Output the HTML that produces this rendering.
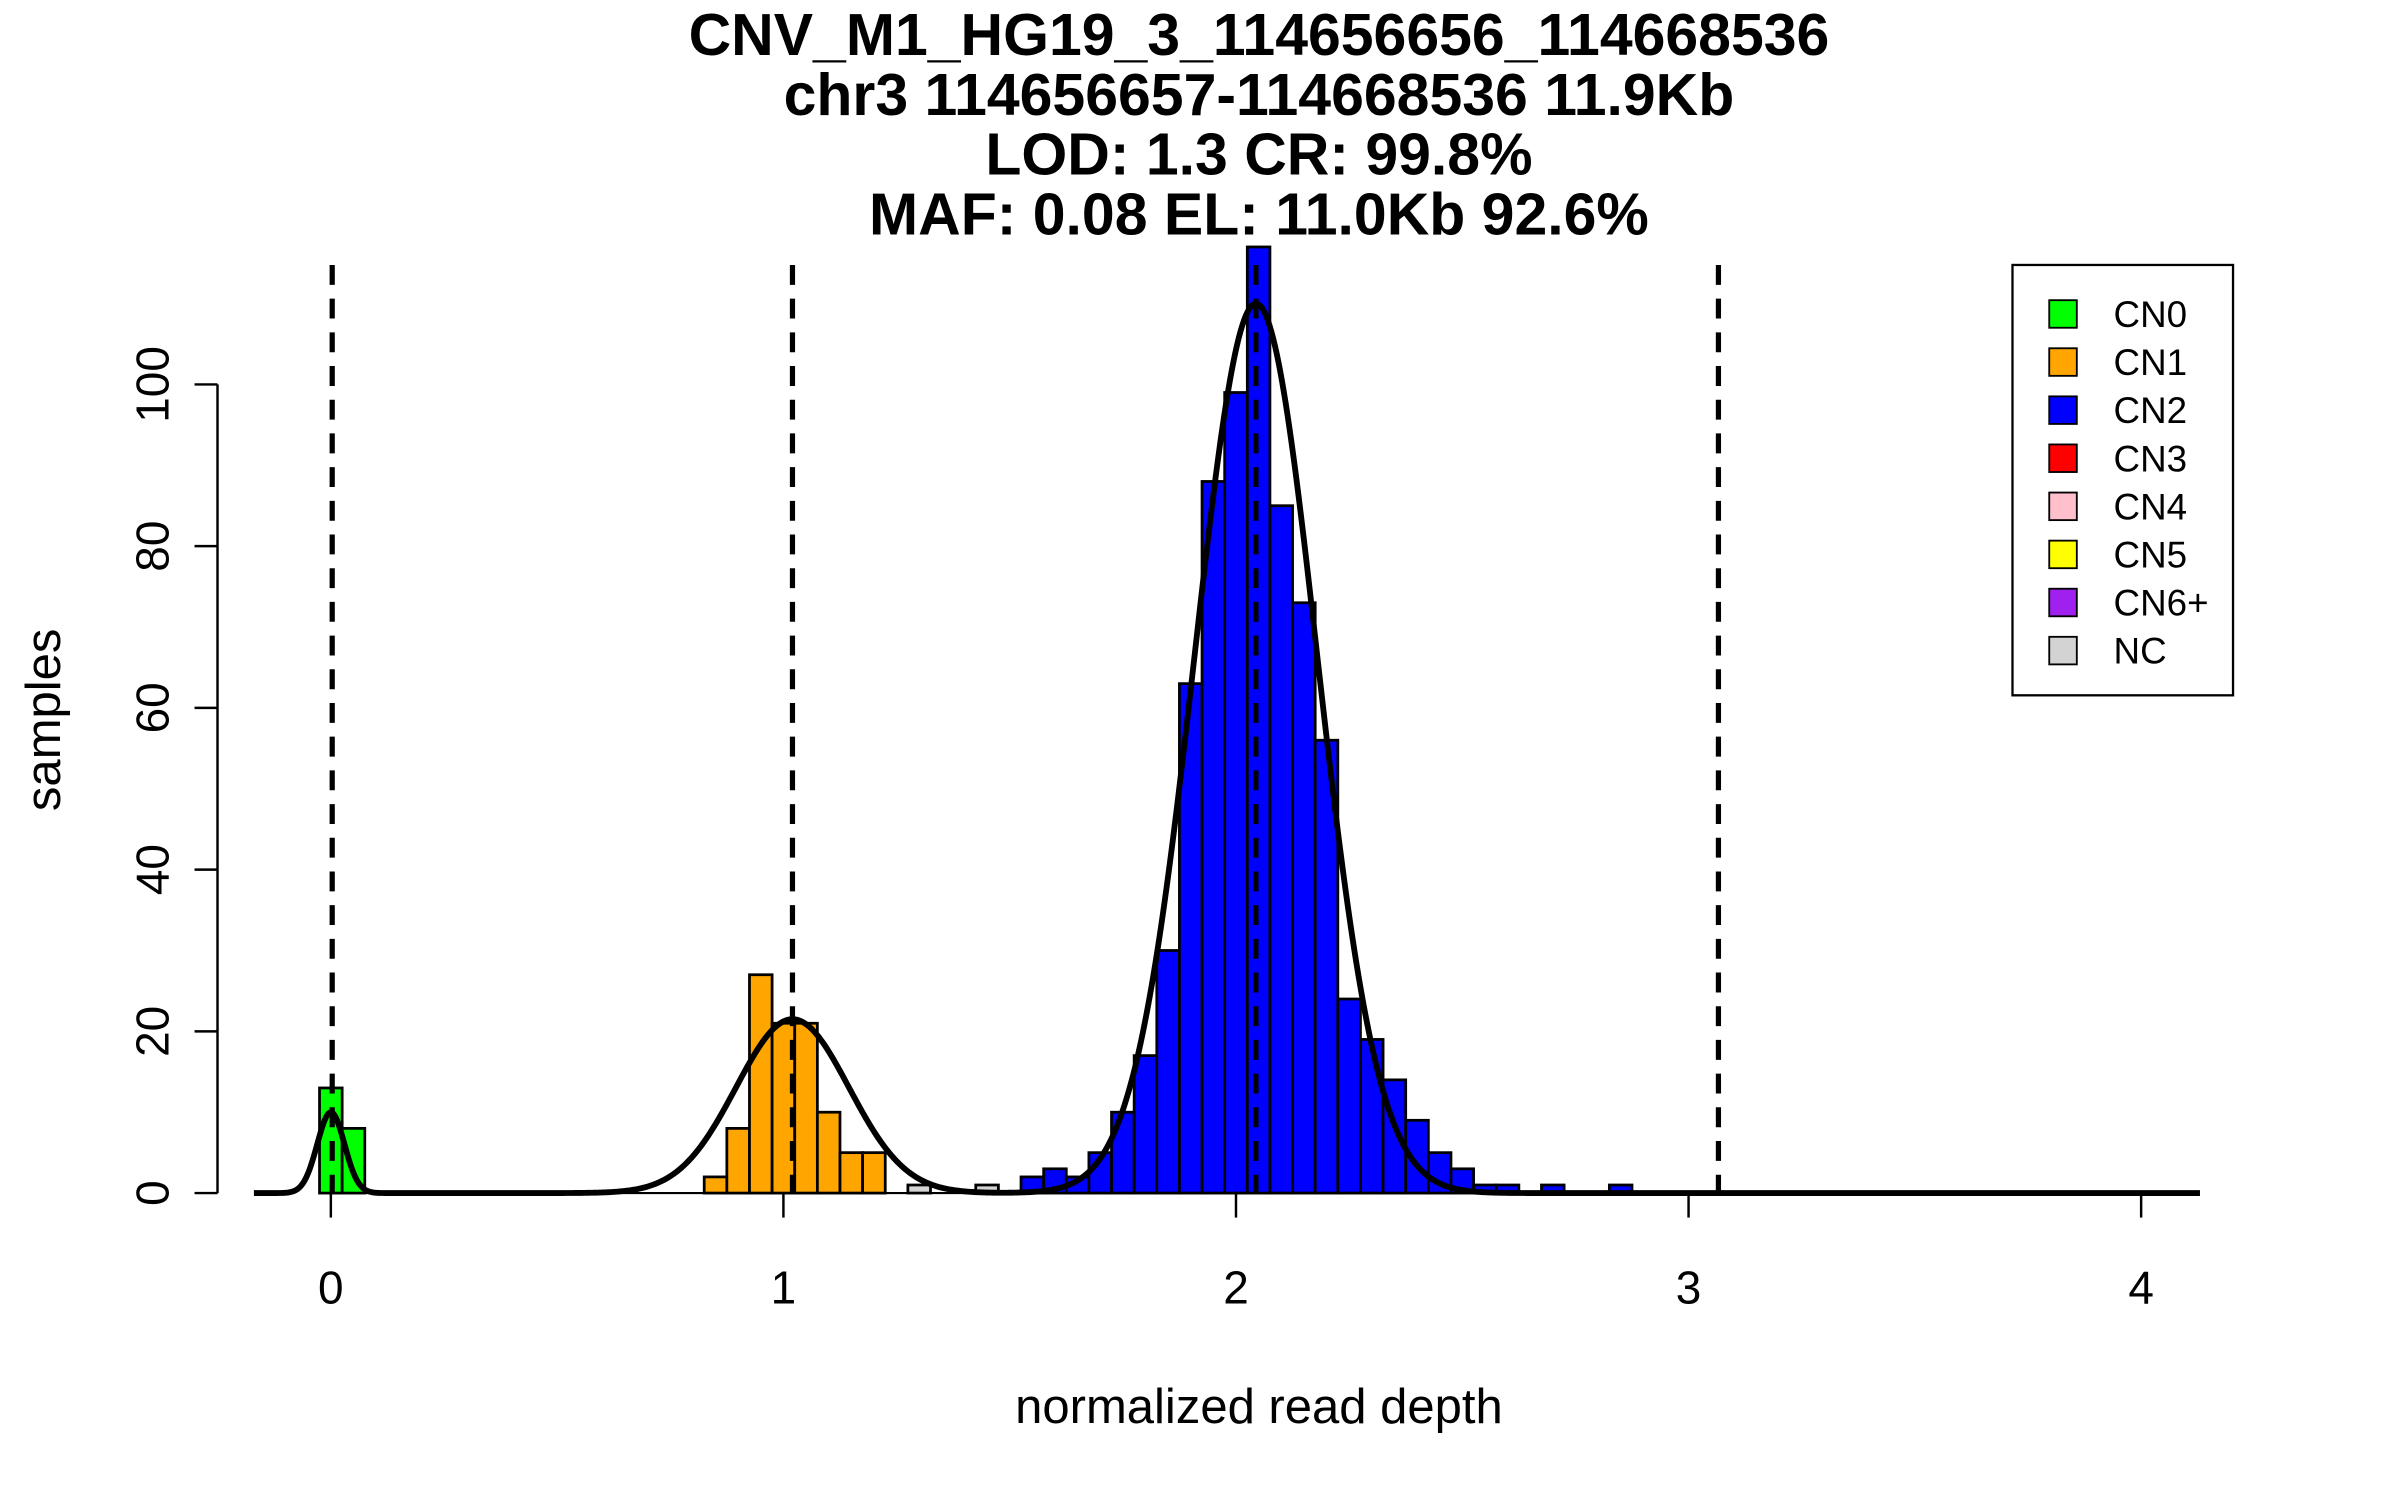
<!DOCTYPE html>
<html><head><meta charset="utf-8"><style>
html,body{margin:0;padding:0;background:#fff;}
svg{display:block;}
text{font-family:"Liberation Sans",sans-serif;fill:#000;}
</style></head><body>
<svg id="chart" width="2400" height="1500" viewBox="0 0 1567 979.4" xmlns="http://www.w3.org/2000/svg">
<g font-weight="bold" font-size="38.5" text-anchor="middle">
<text x="822" y="36">CNV_M1_HG19_3_114656656_114668536</text>
<text x="822" y="75">chr3 114656657-114668536 11.9Kb</text>
<text x="822" y="114">LOD: 1.3 CR: 99.8%</text>
<text x="822" y="153">MAF: 0.08 EL: 11.0Kb 92.6%</text>
</g>
<g id="bars"></g>
<g id="curve"></g>
<g id="dash"></g>
<g id="axes"></g>
<text x="822" y="929" font-size="32" text-anchor="middle">normalized read depth</text>
<text transform="translate(39,470) rotate(-90)" font-size="32" text-anchor="middle">samples</text>
<g id="legend">
<rect x="1314" y="173" width="144" height="281" fill="#fff" stroke="#000" stroke-width="1.5"/>
</g>
</svg>
<script>
const binCenters = [0.00,0.05, 0.85,0.90,0.95,1.00,1.05,1.10,1.15,1.20, 1.30,1.45,
 1.55,1.60,1.65,1.70,1.75,1.80,1.85,1.90,1.95,2.00,2.05,2.10,2.15,2.20,2.25,2.30,2.35,2.40,2.45,2.50,2.55,2.60,2.70,2.85];
const binCounts = [13,8, 2,8,27,21,21,10,5,5, 1,1,
 2,3,2,5,10,17,30,63,88,99,117,85,73,56,24,19,14,9,5,3,1,1,1,1];
const binClass = ["CN0","CN0","CN1","CN1","CN1","CN1","CN1","CN1","CN1","CN1","NC","NC",
 "CN2","CN2","CN2","CN2","CN2","CN2","CN2","CN2","CN2","CN2","CN2","CN2","CN2","CN2","CN2","CN2","CN2","CN2","CN2","CN2","CN2","CN2","CN2","CN2"];
const fitMeans = [0.0, 1.02, 2.044];
const fitPeaks = [10, 21.5, 110];
const fitSigmas = [0.03, 0.125, 0.135];
const cnLines = [0.003, 1.02, 2.044, 3.066];
const xTicks = [0,1,2,3,4];
const yTicks = [0,20,40,60,80,100];
const legendLabels = ["CN0","CN1","CN2","CN3","CN4","CN5","CN6+","NC"];
const legendColors = ["#00ff00","#ffa500","#0000ff","#ff0000","#ffc0cb","#ffff00","#a020f0","#d3d3d3"];
const binWidth = 0.05;

const NS="http://www.w3.org/2000/svg";
const X = v => 216 + v*295.5;
const Y = v => 779 - v*5.28;
function mk(tag, attrs, parent){const e=document.createElementNS(NS,tag);for(const k in attrs)e.setAttribute(k,attrs[k]);parent.appendChild(e);return e;}
const colorOf = c => legendColors[legendLabels.indexOf(c)];

const bars=document.getElementById('bars');
binCenters.forEach((c,i)=>{
  const x0=X(c-binWidth/2), x1=X(c+binWidth/2);
  const r=mk('rect',{x:x0,y:Y(binCounts[i]),width:x1-x0,height:Y(0)-Y(binCounts[i]),fill:colorOf(binClass[i]),stroke:'#000','stroke-width':1.8},bars);
  
  
});

let d='';
for(let v=-0.17; v<=4.13; v+=0.004){
  let s=0; fitMeans.forEach((m,j)=>{s+=fitPeaks[j]*Math.exp(-0.5*Math.pow((v-m)/fitSigmas[j],2));});
  d+=(d?'L':'M')+X(v).toFixed(2)+','+Y(s).toFixed(2);
}
const cp=mk('path',{d:d,fill:'none',stroke:'#000','stroke-width':3.8},document.getElementById('curve'));



const dash=document.getElementById('dash');
cnLines.forEach((v,i)=>{
  const l=mk('line',{x1:X(v),x2:X(v),y1:173,y2:779,stroke:'#000','stroke-width':3.4,'stroke-dasharray':'13,9'},dash);
  
  
});

const axes=document.getElementById('axes');
const xa=mk('line',{x1:X(0),x2:X(4),y1:779,y2:779,stroke:'#000','stroke-width':1.4},axes);


xTicks.forEach(t=>{
  const tl=mk('line',{x1:X(t),x2:X(t),y1:779,y2:795,stroke:'#000','stroke-width':1.6},axes);
  
  
  const tx=mk('text',{x:X(t),y:851,'font-size':30,'text-anchor':'middle'},axes);
  tx.textContent=t;
  
  
});
const ya=mk('line',{x1:142,x2:142,y1:Y(0),y2:Y(100),stroke:'#000','stroke-width':1.6},axes);


yTicks.forEach(t=>{
  const tl=mk('line',{x1:127,x2:142,y1:Y(t),y2:Y(t),stroke:'#000','stroke-width':1.6},axes);
  
  
  const tx=mk('text',{transform:'translate(110,'+Y(t)+') rotate(-90)','font-size':30,'text-anchor':'middle'},axes);
  tx.textContent=t;
  
  
});

const lg=document.getElementById('legend');
legendLabels.forEach((lab,i)=>{
  const cy=205+i*31.4;
  const r=mk('rect',{x:1338,y:cy-9,width:18,height:18,fill:legendColors[i],stroke:'#000','stroke-width':1.2},lg);
  
  
  const t=mk('text',{x:1380,y:cy+8.5,'font-size':24},lg);
  t.textContent=lab;
  
  
});
</script>
</body></html>
